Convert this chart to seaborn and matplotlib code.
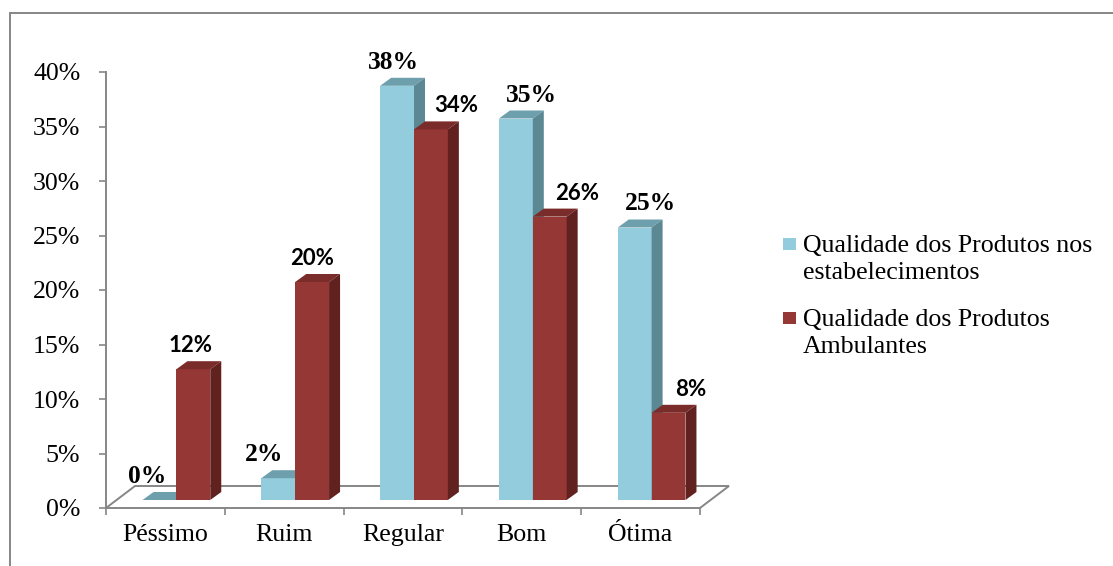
import matplotlib
matplotlib.use("Agg")
import matplotlib.pyplot as plt
from matplotlib.patches import Polygon, Rectangle
from matplotlib.lines import Line2D
import pandas as pd
import seaborn as sns

# ---- data -------------------------------------------------------------
categorias = ["Péssimo", "Ruim", "Regular", "Bom", "Ótima"]
estabelecimentos = [0, 2, 38, 35, 25]
ambulantes = [12, 20, 34, 26, 8]
series = ["Qualidade dos Produtos nos\nestabelecimentos",
          "Qualidade dos Produtos\nAmbulantes"]
yticks = [0, 5, 10, 15, 20, 25, 30, 35, 40]
ytick_labels = ["0%", "5%", "10%", "15%", "20%", "25%", "30%", "35%", "40%"]

# ---- styling ------------------------------------------------------------
W, H, DPI = 1113, 566, 100
AX_L, AX_R, AX_T, AX_B = 106, 700, 72, 508          # plot frame in pixels
GREY = "#868686"
FRONT = ["#93CDDD", "#953735"]
TOP = ["#6E9FAC", "#7A2C2A"]
SIDE = ["#5C8893", "#60211F"]
SERIF = "Liberation Serif"
SANS = "Lato"
# label horizontal nudges (pixels) relative to each bar's centre
nudge = [[-1.5, -3.5, 7.5, 26.5, 26.5],
         [8.5, 10.5, 36.5, 38.5, 33.5]]
label_font = [dict(family=SERIF, size=18.4, weight="bold"),
              dict(family=SANS, size=16, weight="bold")]

sns.set_theme(style="white")
plt.rcParams["font.family"] = [SERIF, "DejaVu Sans"]

fig = plt.figure(figsize=(W / DPI, H / DPI), dpi=DPI)
ax = fig.add_axes([AX_L / W, 1 - AX_B / H, (AX_R - AX_L) / W, (AX_B - AX_T) / H])

df = pd.DataFrame({
    "Categoria": categorias * 2,
    "Percentual": estabelecimentos + ambulantes,
    "Série": [series[0]] * len(categorias) + [series[1]] * len(categorias),
})
sns.barplot(data=df, x="Categoria", y="Percentual", hue="Série",
            hue_order=series, order=categorias, palette=FRONT,
            width=0.57, saturation=1, errorbar=None, legend=False,
            linewidth=0, ax=ax)

ax.set_xlim(-0.5, len(categorias) - 0.5)
ax.set_ylim(0, 40)
px_x = (len(categorias)) / (AX_R - AX_L)   # data units per pixel
px_y = 40 / (AX_B - AX_T)

# floor of the 3-D plot
FL_DX, FL_DY = 29, 22
x0, x1 = -0.5, len(categorias) - 0.5
floor = Polygon([(x0, 0), (x1, 0), (x1 + FL_DX * px_x, FL_DY * px_y),
                 (x0 + FL_DX * px_x, FL_DY * px_y)], closed=True,
                facecolor="white", edgecolor=GREY, lw=1.4, zorder=1,
                clip_on=False)
ax.add_patch(floor)

# bars: push into the floor and add top / side faces
POS_DX, POS_DY = 11, 8      # placement depth
BAR_DX, BAR_DY = 11, 8      # bar thickness
for k, cont in enumerate(ax.containers):
    z = 2 + k
    for i, rect in enumerate(cont.patches):
        x, w, h = rect.get_x(), rect.get_width(), rect.get_height()
        xc = x + w / 2
        nx = x + POS_DX * px_x
        ny = POS_DY * px_y
        rect.set_x(nx)
        rect.set_y(ny)
        rect.set_zorder(z)
        rect.set_clip_on(False)
        top = ny + h
        ddx, ddy = BAR_DX * px_x, BAR_DY * px_y
        ax.add_patch(Polygon([(nx, top), (nx + w, top), (nx + w + ddx, top + ddy),
                              (nx + ddx, top + ddy)], closed=True,
                             facecolor=TOP[k], lw=0, zorder=z, clip_on=False))
        ax.add_patch(Polygon([(nx + w, ny), (nx + w + ddx, ny + ddy),
                              (nx + w + ddx, top + ddy), (nx + w, top)],
                             closed=True, facecolor=SIDE[k], lw=0, zorder=z,
                             clip_on=False))
        ax.annotate(f"{h:.0f}%", xy=(xc, h), xytext=(nudge[k][i] * 0.72, 25 * 0.72),
                    textcoords="offset points", ha="center", va="baseline",
                    color="black", zorder=10, annotation_clip=False,
                    **label_font[k])

# axes cosmetics
for s in ["top", "right", "bottom"]:
    ax.spines[s].set_visible(False)
ax.spines["left"].set_color(GREY)
ax.spines["left"].set_linewidth(1.4)
ax.set_xlabel("")
ax.set_ylabel("")
ax.set_yticks(yticks)
ax.set_yticklabels(ytick_labels)
ax.set_xticks(range(len(categorias)))
ax.set_xticklabels(categorias)
ax.set_xticks([i - 0.5 for i in range(len(categorias) + 1)], minor=True)
ax.tick_params(axis="y", which="major", direction="out", length=5, width=1.2,
               color=GREY, pad=13.5, labelsize=18.6, labelcolor="black", left=True)
ax.tick_params(axis="x", which="major", length=0, pad=11.5, labelsize=18.6,
               labelcolor="black")
ax.tick_params(axis="x", which="minor", direction="out", length=5, width=1.2,
               color=GREY, bottom=True)
for t in ax.get_xticklabels() + ax.get_yticklabels():
    t.set_family(SERIF)
ax.set_facecolor("none")
ax.grid(False)

# legend
leg_sq = [(783, 238), (783, 312)]
leg_tx = [(803, 235), (803, 309)]
for k in range(2):
    sx, sy = leg_sq[k]
    fig.add_artist(Rectangle((sx / W, 1 - (sy + 12) / H), 13 / W, 12 / H,
                             transform=fig.transFigure, facecolor=FRONT[k], lw=0))
    tx, ty = leg_tx[k]
    fig.text(tx / W, 1 - ty / H, series[k], ha="left", va="top",
             fontsize=18.6, family=SERIF, linespacing=1.32, color="black")

# outer chart border (left and top)
fig.add_artist(Line2D([10 / W, 10 / W], [0, 1 - 13 / H], transform=fig.transFigure,
                      color=GREY, lw=1.4))
fig.add_artist(Line2D([10 / W, 1], [1 - 13 / H, 1 - 13 / H], transform=fig.transFigure,
                      color=GREY, lw=1.4))

fig.savefig("out.png", dpi=DPI, facecolor="white")
